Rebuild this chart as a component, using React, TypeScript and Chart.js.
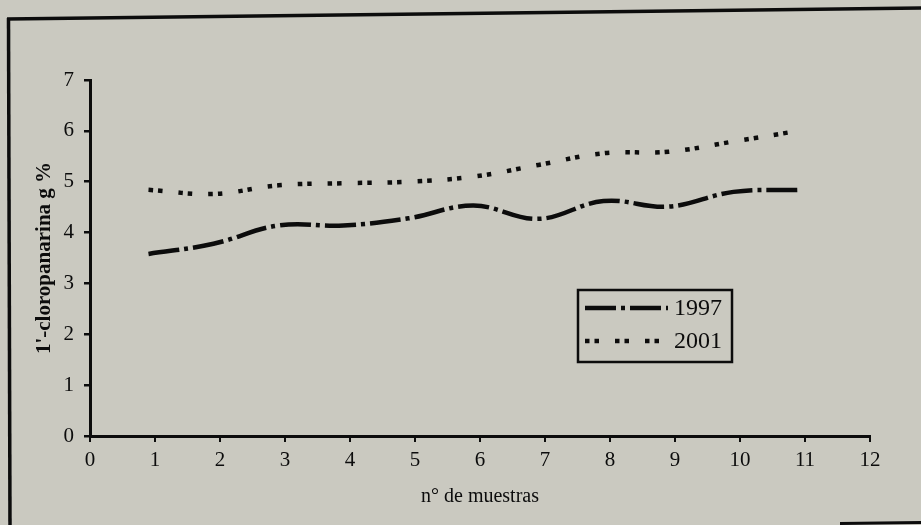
import React, { useEffect, useRef } from "react";
import { Chart, registerables } from "chart.js";

Chart.register(...registerables);

// sample positions as plotted (n° de muestras)
const samplePositions = [0.9, 1.9, 2.9, 3.9, 4.9, 5.9, 6.9, 7.9, 8.9, 9.9, 10.9];
const series1997 = [3.58, 3.78, 4.14, 4.14, 4.28, 4.53, 4.27, 4.62, 4.51, 4.8, 4.84];
const series2001 = [4.84, 4.76, 4.93, 4.97, 5.0, 5.1, 5.33, 5.56, 5.59, 5.79, 6.0];
const seriesLabels = ["1997", "2001"];
const xTickRange = [0, 12];
const yTickRange = [0, 7];
const xTitle = "n° de muestras";
const yTitle = "1'-cloropanarina g %";

const BG = "#cac9c0";
const INK = "#0c0c0c";

const paperPlugin = {
  id: "paper",
  beforeDraw(chart: any) {
    const { ctx, width, height } = chart;
    ctx.save();
    ctx.fillStyle = BG;
    ctx.fillRect(0, 0, width, height);
    ctx.strokeStyle = INK;
    ctx.lineWidth = 3.5;
    ctx.beginPath();
    ctx.moveTo(7, 19);
    ctx.lineTo(width, 8);
    ctx.stroke();
    ctx.beginPath();
    ctx.moveTo(8.5, 18);
    ctx.lineTo(10, height);
    ctx.stroke();
    ctx.lineWidth = 3;
    ctx.beginPath();
    ctx.moveTo(840, height - 1.5);
    ctx.lineTo(width, height - 2.5);
    ctx.stroke();
    ctx.restore();
  },
};

const legendBoxPlugin = {
  id: "legendBox",
  afterDatasetsDraw(chart: any) {
    const { ctx, chartArea } = chart;
    const left = chartArea.left + 488;
    const top = 290;
    const w = 154;
    const h = 72;
    ctx.save();
    ctx.fillStyle = BG;
    ctx.fillRect(left, top, w, h);
    ctx.strokeStyle = INK;
    ctx.lineWidth = 2.5;
    ctx.strokeRect(left, top, w, h);
    chart.data.datasets.forEach((ds: any, i: number) => {
      const y = top + 18 + i * 33;
      ctx.save();
      ctx.strokeStyle = ds.borderColor;
      ctx.lineWidth = ds.borderWidth;
      ctx.setLineDash(ds.borderDash || []);
      ctx.lineCap = "butt";
      ctx.beginPath();
      ctx.moveTo(left + 7, y);
      ctx.lineTo(left + 90, y);
      ctx.stroke();
      ctx.restore();
      ctx.fillStyle = INK;
      ctx.font = "24px 'Liberation Serif'";
      ctx.textBaseline = "middle";
      ctx.textAlign = "left";
      ctx.fillText(ds.label, left + 96, y + 1);
    });
    ctx.restore();
  },
};

export default function App() {
  const ref = useRef<HTMLCanvasElement | null>(null);

  useEffect(() => {
    document.body.style.margin = "0";
    document.body.style.background = BG;
    const canvas = ref.current;
    if (!canvas) return;
    const chart = new Chart(canvas, {
      type: "line",
      data: {
        datasets: [
          {
            label: seriesLabels[0],
            data: samplePositions.map((x, i) => ({ x, y: series1997[i] })),
            borderColor: INK,
            borderWidth: 4.5,
            borderDash: [31, 5, 4, 5],
            borderCapStyle: "butt",
            tension: 0.4,
            pointRadius: 0,
            fill: false,
          },
          {
            label: seriesLabels[1],
            data: samplePositions.map((x, i) => ({ x, y: series2001[i] })),
            borderColor: INK,
            borderWidth: 4.5,
            borderDash: [4.5, 5, 4.5, 16],
            borderCapStyle: "butt",
            tension: 0.4,
            pointRadius: 0,
            fill: false,
          },
        ],
      },
      options: {
        responsive: false,
        animation: false,
        layout: { padding: { left: 0, right: 51, top: 80, bottom: 0 } },
        plugins: {
          legend: { display: false },
          tooltip: { enabled: false },
        },
        scales: {
          x: {
            type: "linear",
            min: xTickRange[0],
            max: xTickRange[1],
            afterFit: (s: any) => {
              s.height = 89;
            },
            ticks: {
              stepSize: 1,
              color: INK,
              padding: 6,
              font: { family: "'Liberation Serif'", size: 21 },
            },
            grid: {
              drawOnChartArea: false,
              drawTicks: true,
              tickLength: 6,
              lineWidth: 2,
              color: INK,
            },
            border: { display: true, width: 3, color: INK },
            title: {
              display: true,
              text: xTitle,
              color: INK,
              font: { family: "'Liberation Serif'", size: 20 },
              padding: { top: 0, bottom: 16 },
            },
          },
          y: {
            type: "linear",
            min: yTickRange[0],
            max: yTickRange[1],
            afterFit: (s: any) => {
              s.width = 90;
            },
            ticks: {
              stepSize: 1,
              color: INK,
              padding: 10,
              font: { family: "'Liberation Serif'", size: 21 },
            },
            grid: {
              drawOnChartArea: false,
              drawTicks: true,
              tickLength: 6,
              lineWidth: 2.5,
              color: INK,
            },
            border: { display: true, width: 3, color: INK },
            title: {
              display: true,
              text: yTitle,
              color: INK,
              font: { family: "'Liberation Serif'", size: 21, weight: "bold" },
              padding: { top: 32, bottom: 0 },
            },
          },
        },
      },
      plugins: [paperPlugin, legendBoxPlugin],
    } as any);
    return () => chart.destroy();
  }, []);

  return (
    <div style={{ width: 921, height: 525, background: BG }}>
      <canvas ref={ref} width={921} height={525} style={{ display: "block" }} />
    </div>
  );
}
